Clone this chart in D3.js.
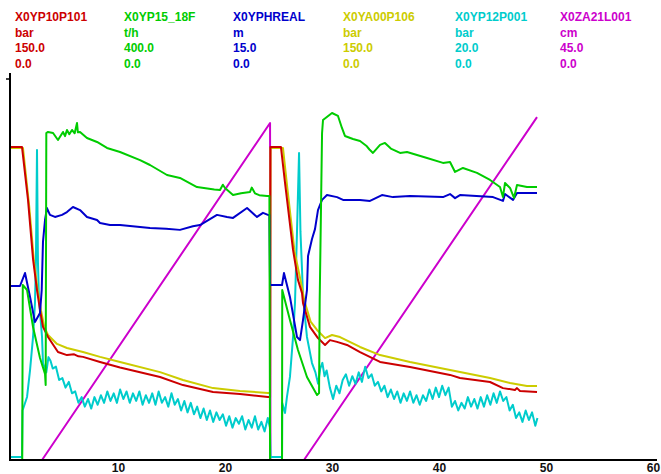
<!DOCTYPE html>
<html>
<head>
<meta charset="utf-8">
<script src="https://cdn.jsdelivr.net/npm/d3@7"></script>
<style>
  body { margin: 0; background: #fff; }
  svg { display: block; font-family: "Liberation Sans", Arial, sans-serif; font-weight: bold; }
</style>
</head>
<body>
<div id="chart"></div>
<script>
// header info, one entry per channel
var tags   = ["X0YP10P101", "X0YP15_18F", "X0YPHREAL", "X0YA00P106", "X0YP12P001", "X0ZA21L001"];
var units  = ["bar", "t/h", "m", "bar", "bar", "cm"];
var maxVal = [150, 400, 15, 150, 20, 45];
var minVal = [0, 0, 0, 0, 0, 0];
var colors = ["#cc0000", "#00cc00", "#0000cc", "#cccc00", "#00cccc", "#cc00cc"];
var xTicks = [10, 20, 30, 40, 50, 60];

// [time, value]
var p101 = [[0,123.2],[1.03,123.2],[1.59,102.4],[2.06,79.1],[2.43,66.9],[2.71,59.1],[2.99,52.4],[3.46,48.4],[4.39,42.5],
  [5.23,41.3],[5.9,41.6],[6.3,40.8],[6.73,40.6],[8.32,38.6],[10.19,36.4],[13.93,32.7],[16.07,29.5],[18.88,26.8],[21.40,26.0],
  [24.02,24.8],[24.21,24.8],[24.25,123.2],[25.23,123.2],[25.61,109.1],[26.36,82.7],[26.82,70.9],[27.20,65.7],[27.29,61.8],
  [27.94,52.4],[28.69,48.0],[29.35,45.3],[29.81,47.2],[30.47,46.5],[31.40,45.3],[32.62,42.5],[34.49,38.6],[37.29,36.6],
  [41.03,33.5],[41.96,32.3],[44.77,30.7],[45.98,28.3],[47.10,27.6],[47.29,28.3],[47.57,27.2],[49.16,26.8]];

var p15 = [[0,0],[1.05,0],[1.10,183.7],[1.50,178.5],[2.06,139.6],[2.71,107.1],[3.18,90.3],[3.24,78.7],[3.30,343.3],
  [3.46,344.4],[3.93,343.3],[4.39,336.0],[4.86,344.4],[5.05,340],[5.23,346.5],[5.45,342],[5.70,346.5],[5.95,343],
  [6.17,353.8],[6.25,344],[6.45,344.4],[7.10,338.1],[8.04,333.9],[8.97,327.6],[10.19,323.4],[12.06,314.9],[12.99,309.7],
  [14.58,299.2],[15.79,296.1],[17.38,286.6],[19.0,284],[19.53,283.5],[19.8,289],[20.0,285.6],[20.75,278.2],[21.5,280],
  [22.34,281.4],[22.5,286],[22.8,280],[23.2,278],[23.93,277.2],[24.15,277.2],[24.21,0],[25.33,0],[25.35,178.5],
  [26.07,146.9],[26.82,115.5],[27.66,87.1],[28.60,68.2],[28.79,70.3],[28.85,168.0],[29.07,343.0],[29.16,357.0],
  [30.00,364.3],[30.56,361.2],[30.93,348.6],[31.21,340.2],[31.96,337.0],[32.62,334.9],[33.2,330],[33.5,326],[33.83,322.4],
  [34.49,330.8],[34.95,332.9],[35.5,327],[36.36,322.4],[37.01,323.4],[38.88,317.1],[40.37,311.9],[41.03,312.9],
  [41.50,302.4],[42.24,306.6],[43.55,301.4],[44.77,294.0],[45.70,286.6],[45.98,276.2],[46.17,290.8],[46.64,285.6],
  [47.01,275.1],[47.29,288.8],[48.22,286.6],[49.16,286.6]];

var phreal = [[0,6.85],[0.84,6.85],[1.31,7.36],[1.78,6.42],[2.24,5.43],[2.71,5.79],[2.87,6.69],[2.99,8.6],[3.18,9.45],
  [3.36,9.92],[3.64,9.65],[4.11,9.57],[4.77,9.65],[5.23,9.76],[5.79,9.96],[6.45,9.84],[7.10,9.57],[8.04,9.45],[8.32,9.33],
  [9.25,9.25],[10.19,9.25],[12.99,9.13],[14.5,9.1],[15.79,9.06],[17.0,9.2],[17.66,9.25],[19.25,9.65],[20.19,9.57],
  [20.75,9.53],[22.06,9.92],[22.99,9.57],[23.55,9.73],[24.02,9.65],[24.15,9.65],[24.21,6.89],[25.33,6.89],[25.51,7.36],
  [26.07,6.42],[26.73,4.84],[27.01,4.72],[27.29,5.51],[27.66,6.69],[27.76,8.03],[28.13,8.70],[28.41,9.09],[28.69,9.84],
  [29.07,10.24],[29.53,10.43],[30.47,10.35],[31.03,10.24],[32.62,10.24],[33.55,10.20],[34.67,10.43],[35.70,10.35],
  [37.29,10.39],[40.37,10.35],[41.03,10.47],[41.50,10.31],[41.96,10.43],[45.05,10.35],[45.98,10.20],[46.17,10.47],
  [46.92,10.24],[47.29,10.51],[49.16,10.51]];

var p106 = [[0,122.8],[1.12,122.8],[1.70,100.0],[2.15,78.0],[2.52,66.0],[2.80,59.0],[3.10,52.5],[3.46,49.2],[4.30,45.7],
  [5.23,44.1],[6.73,42.5],[8.32,40.6],[10.19,38.6],[13.93,34.6],[16.07,31.5],[18.88,28.3],[21.40,27.2],[24.02,26.4],
  [24.21,26.4],[24.25,122.8],[25.42,122.8],[25.80,108.0],[26.50,82.0],[27.10,70.0],[27.40,63.0],[28.00,54.5],[28.60,51.2],
  [29.35,48.0],[30.00,49.2],[30.75,48.4],[32.62,44.5],[34.49,41.3],[37.29,38.6],[41.03,35.4],[44.77,32.3],[46.64,30.3],
  [48.22,29.1],[49.16,29.1]];

var p12 = [[0,0.16],[1.03,0.16],[1.08,2.6],[1.50,3.31],[1.78,4.72],[2.06,6.46],[2.24,8.24],[2.33,10.5],[2.43,16.27],
  [2.52,10.34],[2.61,8.5],[2.90,6.46],[2.99,5.09],[3.3,4.6],[3.5,5.4],[3.7,5.2],[3.9,4.8],[4.2,4.9],[4.5,4.2],[4.8,4.3],
  [5.1,3.8],[5.4,4.1],[5.7,3.5],[6.0,3.6],[6.3,3.0],[6.6,3.3],[6.9,2.8],[7.2,3.2],[7.5,2.7],[7.8,3.3],[8.1,2.9],[8.4,3.4],
  [8.7,3.0],[9.0,3.6],[9.3,3.1],[9.6,3.5],[9.9,3.0],[10.2,3.7],[10.5,3.2],[10.8,3.6],[11.1,3.0],[11.4,3.5],[11.7,3.1],
  [12.0,3.6],[12.3,2.9],[12.6,3.4],[12.9,3.0],[13.2,3.5],[13.5,2.9],[13.8,3.6],[14.1,3.0],[14.4,3.3],[14.7,2.8],[15.0,3.5],
  [15.3,2.9],[15.6,3.2],[15.9,2.6],[16.2,3.1],[16.5,2.5],[16.8,3.0],[17.1,2.4],[17.4,2.8],[17.7,2.2],[18.0,2.7],[18.3,2.1],
  [18.6,2.6],[18.9,2.0],[19.2,2.5],[19.5,2.1],[19.8,2.4],[20.1,1.8],[20.4,2.3],[20.7,1.7],[21.0,2.2],[21.3,1.9],[21.6,2.3],
  [21.9,1.6],[22.2,2.1],[22.5,1.7],[22.8,2.3],[23.1,1.6],[23.4,2.0],[23.7,1.5],[24.0,2.2],[24.2,1.7],[24.25,0.16],
  [25.33,0.16],[25.35,2.99],[25.61,2.47],[25.79,3.31],[26.07,4.36],[26.36,6.46],[26.54,8.24],[26.73,12.0],[26.92,16.11],
  [27.05,12.0],[27.20,9.97],[27.29,8.56],[27.66,6.46],[28.13,5.09],[28.45,4.6],[28.7,4.0],[28.9,4.8],[29.1,5.1],[29.3,4.4],
  [29.5,4.7],[29.8,3.8],[30.1,3.2],[30.4,3.9],[30.7,3.5],[31.0,4.2],[31.3,4.5],[31.6,3.9],[31.9,4.4],[32.2,4.0],[32.5,4.6],
  [32.8,4.1],[33.1,4.9],[33.4,4.3],[33.7,4.5],[34.0,3.9],[34.3,4.1],[34.6,3.6],[34.9,3.9],[35.2,3.3],[35.5,3.7],[35.8,3.2],
  [36.1,3.6],[36.4,3.0],[36.7,3.5],[37.0,3.1],[37.3,3.6],[37.6,3.0],[37.9,3.4],[38.2,2.9],[38.5,3.4],[38.8,3.1],[39.1,3.7],
  [39.4,3.2],[39.7,3.8],[40.0,3.3],[40.3,3.9],[40.6,3.4],[40.9,3.8],[41.2,2.8],[41.5,3.1],[41.8,2.6],[42.1,3.0],[42.4,2.7],
  [42.7,3.3],[43.0,2.8],[43.3,3.2],[43.6,2.7],[43.9,3.3],[44.2,2.8],[44.5,3.4],[44.8,2.9],[45.1,3.5],[45.4,3.0],[45.7,3.6],
  [46.0,3.1],[46.3,3.3],[46.6,2.6],[46.9,2.9],[47.2,2.2],[47.5,2.5],[47.8,2.0],[48.1,2.6],[48.4,2.1],[48.7,2.5],[49.0,1.8],
  [49.2,2.2]];

var za21 = [[0,0],[2.9,0],[24.21,39.8],[24.25,0],[27.38,0],[49.16,40.5]];

var series = [p101, p15, phreal, p106, p12, za21];
var drawOrder = [5, 4, 3, 0, 2, 1];

var width = 661, height = 474;
var plotTop = 79, plotBottom = 460;

var svg = d3.select("#chart").append("svg")
    .attr("width", width)
    .attr("height", height);

var x = d3.scaleLinear().domain([0, 60]).range([11, 653]);

// header block
var colX = [15, 124, 233, 343, 455, 560];
var rowY = [21, 36.5, 52, 67.5];
tags.forEach(function(t, i) {
    var lines = [t, units[i], maxVal[i].toFixed(1), minVal[i].toFixed(1)];
    lines.forEach(function(s, j) {
        svg.append("text")
            .attr("x", colX[i])
            .attr("y", rowY[j])
            .attr("fill", colors[i])
            .style("font-size", "12px")
            .text(s);
    });
});

// traces
drawOrder.forEach(function(i) {
    var y = d3.scaleLinear().domain([minVal[i], maxVal[i]]).range([plotBottom, plotTop]);
    var line = d3.line()
        .x(function(d) { return x(d[0]); })
        .y(function(d) { return y(d[1]); });
    svg.append("path")
        .datum(series[i])
        .attr("d", line)
        .attr("fill", "none")
        .attr("stroke", colors[i])
        .attr("stroke-width", 2)
        .attr("stroke-linejoin", "round");
});

// axes
var xAxis = d3.axisBottom(x)
    .tickValues(xTicks)
    .tickSize(0)
    .tickPadding(3)
    .tickFormat(d3.format("d"));

var gx = svg.append("g")
    .attr("transform", "translate(0," + plotBottom + ")")
    .call(xAxis);
gx.select(".domain").remove();
gx.selectAll("text")
    .attr("fill", "#111")
    .style("font-size", "12px")
    .style("font-weight", "bold")
    .style("font-family", "'Liberation Sans', Arial, sans-serif");

svg.append("line")
    .attr("x1", 10).attr("x2", 657)
    .attr("y1", plotBottom).attr("y2", plotBottom)
    .attr("stroke", "#000").attr("stroke-width", 2);
svg.append("line")
    .attr("x1", 10).attr("x2", 10)
    .attr("y1", 73).attr("y2", plotBottom + 1)
    .attr("stroke", "#000").attr("stroke-width", 2);
svg.append("line")
    .attr("x1", 6).attr("x2", 10)
    .attr("y1", plotTop).attr("y2", plotTop)
    .attr("stroke", "#000").attr("stroke-width", 1.5);
</script>
</body>
</html>
